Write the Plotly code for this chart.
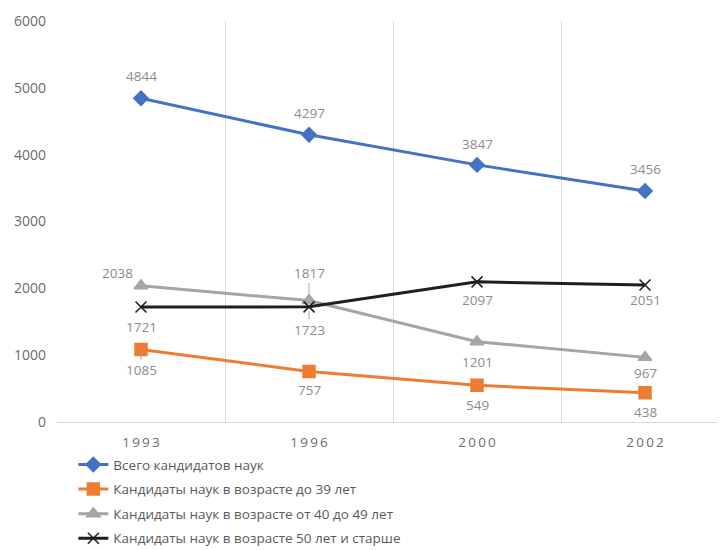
import plotly.graph_objects as go

years = ["1993", "1996", "2000", "2002"]
total = [4844, 4297, 3847, 3456]
under39 = [1085, 757, 549, 438]
age40_49 = [2038, 1817, 1201, 967]
age50plus = [1721, 1723, 2097, 2051]
names = [
    "Всего кандидатов наук",
    "Кандидаты наук в возрасте до 39 лет",
    "Кандидаты наук в возрасте от 40 до 49 лет",
    "Кандидаты наук в возрасте 50 лет и старше",
]

FONT = "Open Sans"
LABEL_COLOR = "#8c8c8c"
TICK_COLOR = "#6b6b6b"

series = [total, under39, age40_49, age50plus]
colors = ["#4472C4", "#ED7D31", "#A5A5A5", "#1f1f1f"]
symbols = ["diamond", "square", "triangle-up", "x-thin"]
msizes = [11, 12, 12, 11]

# label placement (pixel offsets from point) and whether a leader line is drawn
offsets = [
    [(0, -22, False), (0, -22, False), (0, -21, False), (0, -22, False)],
    [(0, 21, True), (0, 19, False), (0, 20, False), (0, 19, False)],
    [(-24, -13, False), (0, -28, True), (0, 20, False), (0, 16, False)],
    [(0, 20, False), (0, 23, True), (0, 18, False), (0, 15, False)],
]

xs = list(range(len(years)))
fig = go.Figure()
for i, (vals, name) in enumerate(zip(series, names)):
    fig.add_trace(go.Scatter(
        x=xs, y=vals, name=name, mode="lines+markers",
        legendgroup=f"g{i}",
        line=dict(color=colors[i], width=3),
        marker=dict(symbol=symbols[i], size=msizes[i], color=colors[i],
                    line=dict(color=colors[i], width=1.5)),
    ))

annotations = []
for i, vals in enumerate(series):
    for j, v in enumerate(vals):
        ax, ay, leader = offsets[i][j]
        annotations.append(dict(
            x=xs[j], y=v, xref="x", yref="y", text=str(v),
            showarrow=True, ax=ax, ay=ay, axref="pixel", ayref="pixel",
            arrowhead=0, arrowwidth=1, standoff=4,
            arrowcolor="#a6a6a6" if leader else "rgba(0,0,0,0)",
            font=dict(family=FONT, size=13.5, color=LABEL_COLOR),
        ))

fig.update_layout(
    width=717, height=542,
    margin=dict(l=49, r=0, t=13, b=128, autoexpand=False),
    paper_bgcolor="white", plot_bgcolor="white",
    font=dict(family=FONT, size=13, color=TICK_COLOR),
    annotations=annotations,
    showlegend=True,
    legend=dict(
        x=0.0245, y=-0.068, xanchor="left", yanchor="top",
        orientation="v", tracegroupgap=4,
        font=dict(family=FONT, size=13.5, color="#595959"),
        bgcolor="rgba(0,0,0,0)",
    ),
    xaxis=dict(
        range=[-0.5, 3.476], automargin=False,
        tickmode="array", tickvals=xs,
        ticktext=["\u2009".join(y) for y in years],
        showgrid=False, zeroline=False,
        showline=True, linecolor="#d9d9d9", linewidth=1,
        ticks="", ticklabelstandoff=8,
        tickfont=dict(family=FONT, size=13.5, color=TICK_COLOR),
        minor=dict(tick0=-0.5, dtick=1, showgrid=True,
                   gridcolor="#d9d9d9", gridwidth=1, ticks=""),
    ),
    yaxis=dict(
        range=[0, 6000], dtick=1000, automargin=False,
        showgrid=False, zeroline=False, showline=False,
        ticks="", ticklabelstandoff=10,
        tickfont=dict(family=FONT, size=14, color=TICK_COLOR),
    ),
)

fig.write_html("out.html")
